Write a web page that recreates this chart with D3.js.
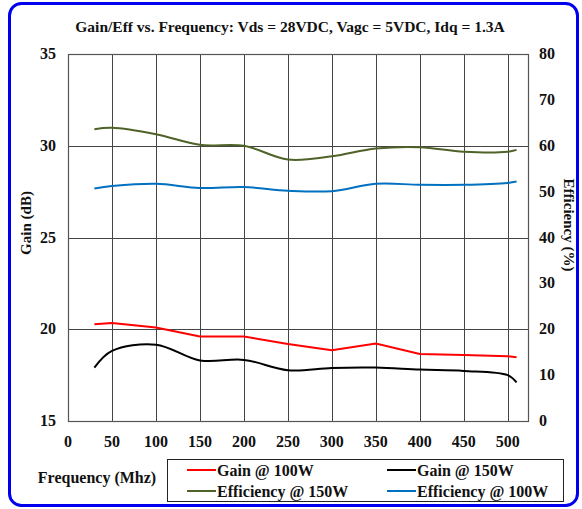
<!DOCTYPE html>
<html>
<head>
<meta charset="utf-8">
<script src="https://cdn.jsdelivr.net/npm/d3@7"></script>
<style>
  body { margin: 0; background: #fff; }
  text { font-family: "Liberation Serif", "Times New Roman", serif; font-weight: bold; fill: #111; }
</style>
</head>
<body>
<div id="chart"></div>
<script>
// data
const freq = [30, 50, 100, 150, 200, 250, 300, 350, 400, 450, 500, 510];
const gain100 = [20.27, 20.34, 20.09, 19.6, 19.6, 19.2, 18.85, 19.22, 18.65, 18.6, 18.53, 18.47];
const gain150 = [17.91, 18.82, 19.16, 18.3, 18.33, 17.77, 17.89, 17.91, 17.8, 17.73, 17.5, 17.1];
const eff150 = [63.6, 63.9, 62.5, 60.2, 60.0, 57.0, 57.7, 59.4, 59.7, 58.7, 58.7, 59.1];
const eff100 = [50.7, 51.2, 51.7, 50.8, 51.0, 50.2, 50.1, 51.7, 51.5, 51.5, 51.9, 52.2];
const xTicks = [0, 50, 100, 150, 200, 250, 300, 350, 400, 450, 500];
const gainTicks = [15, 20, 25, 30, 35];
const effTicks = [0, 10, 20, 30, 40, 50, 60, 70, 80];

const W = 582, H = 509;
const plot = { left: 68, right: 528, top: 54, bottom: 421 };

const svg = d3.select("#chart").append("svg")
    .attr("width", W)
    .attr("height", H);

// outer rounded frame
svg.append("rect")
    .attr("x", 9.5).attr("y", 3.5)
    .attr("width", 568).attr("height", 502)
    .attr("rx", 12)
    .attr("fill", "#fff")
    .attr("stroke", "#0000ee")
    .attr("stroke-width", 3);

// scales
const x = d3.scaleLinear().domain([0, 523]).range([plot.left, plot.right]);
const yGain = d3.scaleLinear().domain([15, 35]).range([plot.bottom, plot.top]);
const yEff = d3.scaleLinear().domain([0, 80]).range([plot.bottom, plot.top]);

// grid
const grid = svg.append("g").attr("stroke", "#444").attr("stroke-width", 1);
xTicks.slice(1).forEach(t => {
    grid.append("line")
        .attr("x1", Math.round(x(t)) + 0.5).attr("x2", Math.round(x(t)) + 0.5)
        .attr("y1", plot.top).attr("y2", plot.bottom);
});
gainTicks.forEach(t => {
    grid.append("line")
        .attr("x1", plot.left).attr("x2", plot.right)
        .attr("y1", Math.round(yGain(t)) + 0.5).attr("y2", Math.round(yGain(t)) + 0.5);
});
svg.append("rect")
    .attr("x", plot.left + 0.5).attr("y", plot.top + 0.5)
    .attr("width", plot.right - plot.left).attr("height", plot.bottom - plot.top)
    .attr("fill", "none").attr("stroke", "#555").attr("stroke-width", 1.2);

// tick labels
const fs = 16;
svg.append("g").selectAll("text").data(xTicks).join("text")
    .attr("x", d => x(d)).attr("y", 447)
    .attr("text-anchor", "middle")
    .style("font-size", fs + "px")
    .text(d => d);

svg.append("g").selectAll("text").data(gainTicks).join("text")
    .attr("x", 56).attr("y", d => yGain(d) + 5)
    .attr("text-anchor", "end")
    .style("font-size", fs + "px")
    .text(d => d);

svg.append("g").selectAll("text").data(effTicks).join("text")
    .attr("x", 539).attr("y", d => yEff(d) + 5)
    .attr("text-anchor", "start")
    .style("font-size", fs + "px")
    .text(d => d);

// lines
const series = [
    { name: "Gain @ 100W", vals: gain100, y: yGain, color: "#ff0000", curve: d3.curveLinear },
    { name: "Gain @ 150W", vals: gain150, y: yGain, color: "#000000", curve: d3.curveCatmullRom },
    { name: "Efficiency @ 150W", vals: eff150, y: yEff, color: "#4f6228", curve: d3.curveCatmullRom },
    { name: "Efficiency @ 100W", vals: eff100, y: yEff, color: "#0070c0", curve: d3.curveCatmullRom }
];

series.forEach(s => {
    const line = d3.line()
        .x((d, i) => x(freq[i]))
        .y(d => s.y(d))
        .curve(s.curve);
    svg.append("path")
        .datum(s.vals)
        .attr("d", line)
        .attr("fill", "none")
        .attr("stroke", s.color)
        .attr("stroke-width", 2);
});

// titles
svg.append("text")
    .attr("x", 290).attr("y", 32)
    .attr("text-anchor", "middle")
    .style("font-size", "15.5px")
    .text("Gain/Eff vs. Frequency: Vds = 28VDC, Vagc = 5VDC, Idq = 1.3A");

svg.append("text")
    .attr("transform", "translate(31, 223) rotate(-90)")
    .attr("text-anchor", "middle")
    .style("font-size", "15px")
    .text("Gain (dB)");

svg.append("text")
    .attr("transform", "translate(564, 225) rotate(90)")
    .attr("text-anchor", "middle")
    .style("font-size", "15px")
    .text("Efficiency (%)");

svg.append("text")
    .attr("x", 97).attr("y", 483)
    .attr("text-anchor", "middle")
    .style("font-size", "16px")
    .text("Frequency (Mhz)");

// legend
svg.append("rect")
    .attr("x", 167.5).attr("y", 459.5)
    .attr("width", 396).attr("height", 42)
    .attr("fill", "#fff").attr("stroke", "#222").attr("stroke-width", 1);

const legendPos = [[187, 476], [387, 476], [187, 497], [387, 497]];
series.forEach((s, i) => {
    const [lx, ly] = legendPos[i];
    svg.append("line")
        .attr("x1", lx).attr("x2", lx + 29)
        .attr("y1", ly - 6).attr("y2", ly - 6)
        .attr("stroke", s.color).attr("stroke-width", 2);
    svg.append("text")
        .attr("x", lx + 30).attr("y", ly)
        .style("font-size", "16px")
        .text(s.name);
});
</script>
</body>
</html>
